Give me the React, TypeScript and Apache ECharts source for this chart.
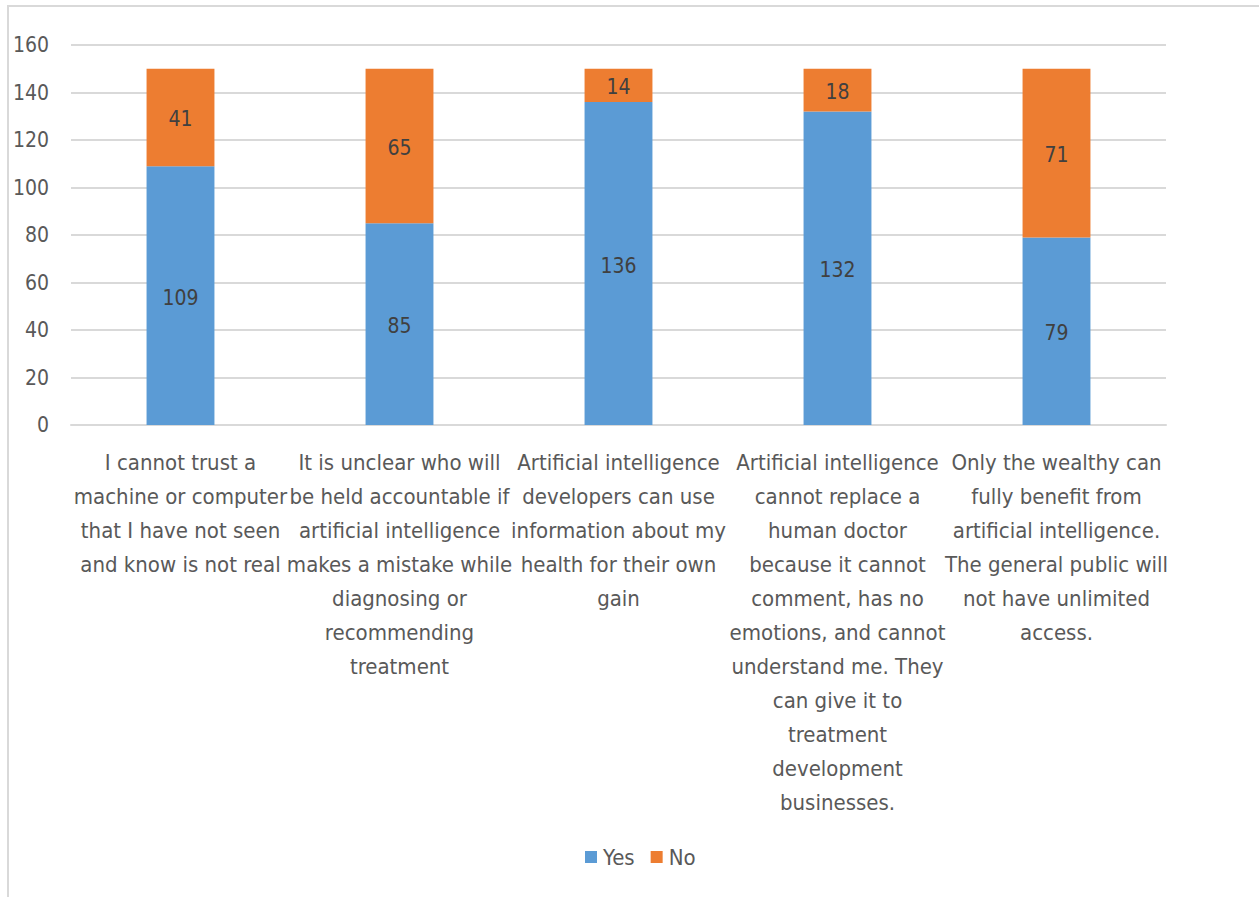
import React, { useEffect, useRef } from "react";
import * as echarts from "echarts";

const categories = [
  "I cannot trust a\nmachine or computer\nthat I have not seen\nand know is not real",
  "It is unclear who will\nbe held accountable if\nartificial intelligence\nmakes a mistake while\ndiagnosing or\nrecommending\ntreatment",
  "Artificial intelligence\ndevelopers can use\ninformation about my\nhealth for their own\ngain",
  "Artificial intelligence\ncannot replace a\nhuman doctor\nbecause it cannot\ncomment, has no\nemotions, and cannot\nunderstand me. They\ncan give it to\ntreatment\ndevelopment\nbusinesses.",
  "Only the wealthy can\nfully benefit from\nartificial intelligence.\nThe general public will\nnot have unlimited\naccess.",
];
const yesValues = [109, 85, 136, 132, 79];
const noValues = [41, 65, 14, 18, 71];

const FONT = "'DejaVu Sans Condensed', 'Liberation Sans Narrow', 'Liberation Sans', sans-serif";
const TEXT = "#595959";
const GRID = "#d9d9d9";

export default function App() {
  const ref = useRef<HTMLDivElement>(null);
  useEffect(() => {
    if (!ref.current) return;
    const chart = echarts.init(ref.current, undefined, { renderer: "svg" });
    const barLabel = {
      show: true,
      position: "inside",
      fontFamily: FONT,
      fontSize: 21,
      color: "#404040",
      offset: [0, 2],
    };
    chart.setOption({
      animation: false,
      backgroundColor: "#ffffff",
      textStyle: { fontFamily: FONT },
      graphic: [
        {
          type: "rect",
          shape: { x: 8, y: 6, width: 1270, height: 910 },
          style: { fill: "none", stroke: GRID, lineWidth: 2 },
          silent: true,
        },
      ],
      grid: { left: 71, right: 93, top: 45, bottom: 472, containLabel: false },
      legend: {
        data: ["Yes", "No"],
        left: 580,
        top: 841,
        itemWidth: 12,
        itemHeight: 12,
        itemGap: 16,
        icon: "rect",
        textStyle: { fontFamily: FONT, fontSize: 22, color: TEXT, padding: [0, 0, 0, 1] },
      },
      xAxis: {
        type: "category",
        data: categories,
        axisTick: { show: false },
        axisLine: { lineStyle: { color: GRID, width: 2 } },
        axisLabel: {
          interval: 0,
          fontFamily: FONT,
          fontSize: 22,
          lineHeight: 34,
          color: TEXT,
          margin: 20,
          align: "center",
        },
      },
      yAxis: {
        type: "value",
        min: 0,
        max: 160,
        interval: 20,
        axisLine: { show: false },
        axisTick: { show: false },
        splitLine: { lineStyle: { color: GRID, width: 2 } },
        axisLabel: { fontFamily: FONT, fontSize: 21, color: TEXT, margin: 22 },
      },
      series: [
        {
          name: "Yes",
          type: "bar",
          stack: "total",
          data: yesValues,
          barWidth: "31%",
          itemStyle: { color: "#5b9bd5" },
          label: barLabel,
        },
        {
          name: "No",
          type: "bar",
          stack: "total",
          data: noValues,
          barWidth: "31%",
          itemStyle: { color: "#ed7d31" },
          label: barLabel,
        },
      ],
    });
    return () => chart.dispose();
  }, []);
  return (
    <div
      ref={ref}
      style={{ position: "fixed", left: 0, top: 0, width: 1259, height: 897 }}
    />
  );
}
